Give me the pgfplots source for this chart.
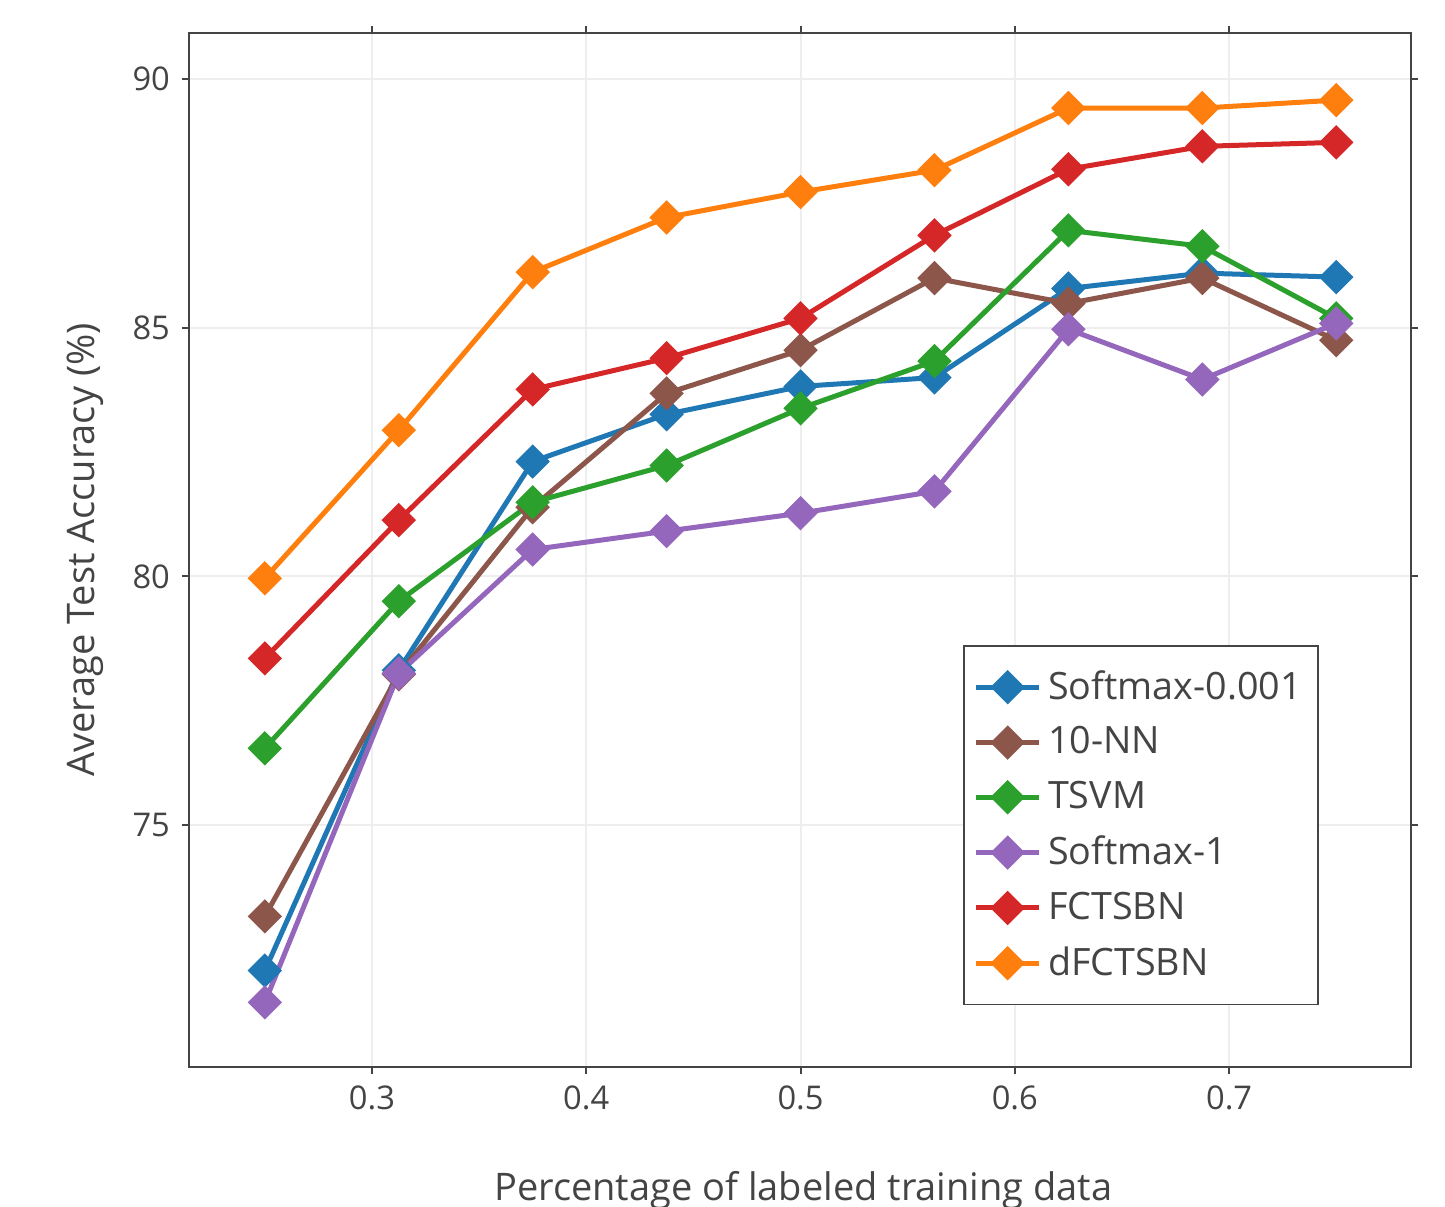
\documentclass[border=0pt]{standalone}
\usepackage{pgfplots}
\pgfplotsset{compat=1.18}
\usepackage{fontspec}
\setmainfont{Open Sans}
\definecolor{cblue}{HTML}{1F77B4}
\definecolor{cbrown}{HTML}{8C564B}
\definecolor{cgreen}{HTML}{2CA02C}
\definecolor{cpurple}{HTML}{9467BD}
\definecolor{cred}{HTML}{D62728}
\definecolor{corange}{HTML}{FF7F0E}
\definecolor{txt}{HTML}{444444}
\definecolor{gridc}{HTML}{EEEEEE}
\begin{document}
\begin{tikzpicture}
\begin{axis}[
  scale only axis,
  width=366.6pt, height=310.2pt,
  xmin=0.2146, xmax=0.7849,
  ymin=70.13, ymax=90.93,
  xtick={0.3,0.4,0.5,0.6,0.7},
  ytick={75,80,85,90},
  xticklabels={0.3,0.4,0.5,0.6,0.7},
  yticklabels={75,80,85,90},
  /pgf/number format/assume math mode=true,
  tick align=outside,
  major tick length=2.2pt,
  tick style={color=txt, line width=0.6pt},
  axis line style={color=txt, line width=0.8pt},
  grid=major,
  major grid style={color=gridc, line width=0.6pt},
  tick label style={font=\fontsize{9.8pt}{11pt}\selectfont, color=txt},
  label style={font=\fontsize{11.4pt}{13pt}\selectfont, color=txt},
  xlabel={Percentage of labeled training data},
  ylabel={Average Test Accuracy (\%)},
  xlabel style={at={(axis description cs:0.5,0)}, anchor=base, yshift=-39.9pt, xshift=1pt},
  ylabel style={at={(axis description cs:0,0.5)}, anchor=center, yshift=31.2pt},
  every axis plot/.append style={line width=1.5pt, mark=square*, mark size=2.9pt, mark options={rotate=45, solid}},
  legend style={at={(rel axis cs:0.6334,0.408)}, anchor=north west, draw=txt, line width=0.5pt,
    font=\fontsize{11.3pt}{13pt}\selectfont, text=txt, inner xsep=3pt, inner ysep=5.3pt, row sep=2.7pt,
    nodes={inner sep=2pt}},
  legend cell align=left,
  legend image code/.code={\draw[mark repeat=2,mark phase=2] plot coordinates {(0cm,0cm) (0.33cm,0cm) (0.66cm,0cm)};},
]
\addplot[color=cblue] coordinates {(0.25,72.07) (0.3125,78.11) (0.375,82.31) (0.4375,83.26) (0.5,83.82) (0.5625,84.0) (0.625,85.79) (0.6875,86.10) (0.75,86.02)};
\addlegendentry{Softmax-0.001}
\addplot[color=cbrown] coordinates {(0.25,73.16) (0.3125,78.03) (0.375,81.39) (0.4375,83.68) (0.5,84.55) (0.5625,86.0) (0.625,85.49) (0.6875,86.0) (0.75,84.75)};
\addlegendentry{10-NN}
\addplot[color=cgreen] coordinates {(0.25,76.54) (0.3125,79.50) (0.375,81.49) (0.4375,82.23) (0.5,83.38) (0.5625,84.33) (0.625,86.96) (0.6875,86.64) (0.75,85.19)};
\addlegendentry{TSVM}
\addplot[color=cpurple] coordinates {(0.25,71.43) (0.3125,78.05) (0.375,80.54) (0.4375,80.91) (0.5,81.27) (0.5625,81.71) (0.625,84.97) (0.6875,83.96) (0.75,85.09)};
\addlegendentry{Softmax-1}
\addplot[color=cred] coordinates {(0.25,78.35) (0.3125,81.13) (0.375,83.76) (0.4375,84.39) (0.5,85.19) (0.5625,86.86) (0.625,88.19) (0.6875,88.65) (0.75,88.73)};
\addlegendentry{FCTSBN}
\addplot[color=corange] coordinates {(0.25,79.96) (0.3125,82.94) (0.375,86.12) (0.4375,87.22) (0.5,87.73) (0.5625,88.17) (0.625,89.42) (0.6875,89.42) (0.75,89.58)};
\addlegendentry{dFCTSBN}
\end{axis}
\pgfresetboundingbox
\path[use as bounding box] (-56.7pt,-41.7pt) rectangle (376.8pt,320.1pt);
\end{tikzpicture}
\end{document}
